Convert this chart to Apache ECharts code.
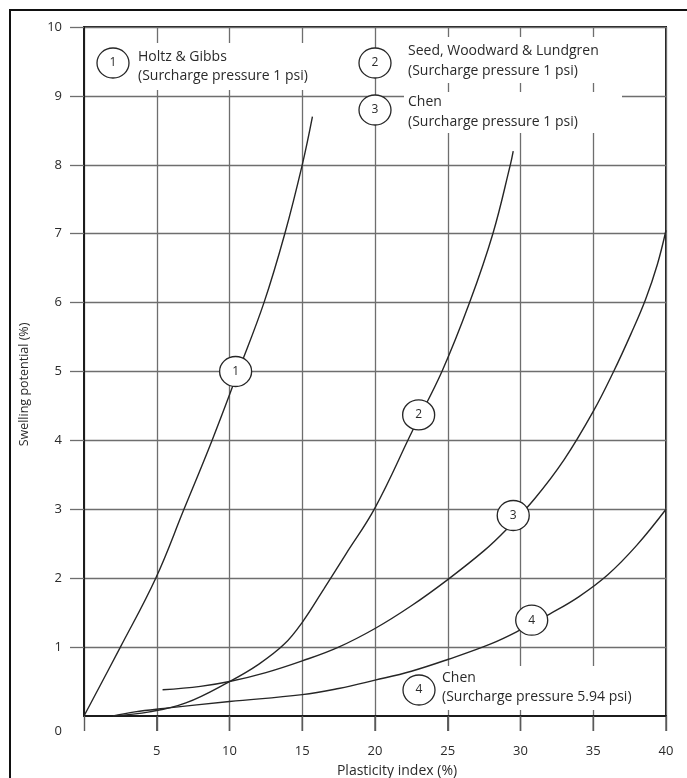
<!DOCTYPE html>
<html>
<head>
<meta charset="utf-8">
<title>Swelling potential vs plasticity index</title>
<script src="https://cdn.jsdelivr.net/npm/echarts@6.0.0/dist/echarts.min.js"></script>
<style>
  html, body { margin: 0; padding: 0; background: #fff; }
  #chart { width: 687px; height: 778px; }
</style>
</head>
<body>
<div id="chart"></div>
<script>
// Swelling potential (%) against plasticity index (%) for four published relations
const FONT = '"Open Sans", Lato, sans-serif';

const xTicks = [5, 10, 15, 20, 25, 30, 35, 40];
const yTicks = [0, 1, 2, 3, 4, 5, 6, 7, 8, 9, 10];

// [plasticity index, swelling potential]
const holtzGibbs = [
  [0, 0], [2.5, 1], [4.93, 2], [6.87, 3], [8.8, 4], [10.6, 5],
  [12.37, 6], [13.8, 7], [15.0, 8], [15.7, 8.7]
];
const seedWoodward = [
  [2.0, 0], [4.5, 0.06], [7, 0.19], [10, 0.5], [12, 0.75], [13.75, 1.04],
  [15, 1.36], [16.5, 1.85], [18, 2.35], [20, 3.02], [22.6, 4.15],
  [24.6, 5], [26.5, 6], [28.1, 7], [29.3, 8], [29.5, 8.2]
];
const chen1psi = [
  [5.4, 0.38], [8, 0.43], [10, 0.5], [12.5, 0.63], [15, 0.8], [17.5, 1.0],
  [20, 1.27], [22.5, 1.6], [25, 1.98], [27.5, 2.4], [29, 2.7], [31, 3.16],
  [33, 3.72], [35, 4.42], [36.4, 5], [37.6, 5.55], [38.6, 6.05], [39.4, 6.55],
  [40, 7.05]
];
const chen594psi = [
  [2.0, 0], [3.5, 0.06], [5.5, 0.11], [10, 0.21], [15, 0.31], [17.5, 0.4],
  [20, 0.52], [22.5, 0.65], [25, 0.82], [28, 1.05], [30, 1.25], [32, 1.48],
  [34, 1.73], [36, 2.05], [38, 2.48], [40, 3.0]
];

// numbered tags sitting on each curve
const tagNumbers = ['1', '2', '3', '4'];
const tagPositions = [[10.42, 5.0], [23.0, 4.37], [29.5, 2.91], [30.77, 1.39]];

// key entries: number, name, surcharge note
const keyNumbers = ['1', '2', '3', '4'];
const keyNames = ['Holtz & Gibbs', 'Seed, Woodward & Lundgren', 'Chen', 'Chen'];
const keyNotes = [
  '(Surcharge pressure 1 psi)', '(Surcharge pressure 1 psi)',
  '(Surcharge pressure 1 psi)', '(Surcharge pressure 5.94 psi)'
];

const chart = echarts.init(document.getElementById('chart'), null, { renderer: 'canvas' });

const LINE = '#262626';
const GRID = '#6e6e6e';
const TEXT = '#2a2a2a';

function curve(name, data) {
  return {
    name: name,
    type: 'line',
    data: data,
    smooth: 0.4,
    showSymbol: false,
    symbol: 'none',
    lineStyle: { color: LINE, width: 1.4 },
    z: 3,
    silent: true
  };
}

// key layout (pixel positions of each entry: circle centre, text left, white box)
const keyLayout = [
  { cx: 113, cy: 63, tx: 138, ty1: 57, ty2: 76, box: [134, 43, 180, 47] },
  { cx: 375, cy: 63, tx: 408, ty1: 51, ty2: 71, box: [404, 37, 218, 46] },
  { cx: 375, cy: 110, tx: 408, ty1: 102, ty2: 122, box: [404, 92, 218, 41] },
  { cx: 419, cy: 690, tx: 442, ty1: 678, ty2: 697, box: [437, 666, 200, 44] }
];

const keyGraphics = [];
keyLayout.forEach(function (k, i) {
  keyGraphics.push({
    type: 'rect', id: 'keybox' + i, z: 20,
    shape: { x: k.box[0], y: k.box[1], width: k.box[2], height: k.box[3] },
    style: { fill: '#fff' }
  });
  keyGraphics.push({
    type: 'ellipse', id: 'keyring' + i, z: 21,
    shape: { cx: k.cx, cy: k.cy, rx: 16, ry: 15 },
    style: { fill: '#fff', stroke: LINE, lineWidth: 1.3 }
  });
  keyGraphics.push({
    type: 'text', id: 'keynum' + i, z: 22, x: k.cx, y: k.cy,
    style: { text: keyNumbers[i], font: '12px ' + FONT, fill: TEXT, align: 'center', verticalAlign: 'middle' }
  });
  keyGraphics.push({
    type: 'text', id: 'keyname' + i, z: 22, x: k.tx, y: k.ty1,
    style: { text: keyNames[i], font: '14px ' + FONT, fill: TEXT, align: 'left', verticalAlign: 'middle' }
  });
  keyGraphics.push({
    type: 'text', id: 'keynote' + i, z: 22, x: k.tx, y: k.ty2,
    style: { text: keyNotes[i], font: '14px ' + FONT, fill: TEXT, align: 'left', verticalAlign: 'middle' }
  });
});

// outer frame of the figure
keyGraphics.push({
  type: 'rect', id: 'frame', z: 30,
  shape: { x: 10, y: 10, width: 720, height: 820 },
  style: { fill: null, stroke: '#111', lineWidth: 2 }
});

const option = {
  backgroundColor: '#fff',
  animation: false,
  grid: {
    left: 84, right: 21, top: 27, bottom: 62,
    containLabel: false,
    outerBoundsMode: 'none',
    show: true, borderColor: '#1c1c1c', borderWidth: 2
  },
  xAxis: {
    type: 'value',
    min: 0, max: 40, interval: 5,
    name: 'Plasticity index (%)',
    nameLocation: 'middle',
    nameGap: 48,
    nameTextStyle: { fontFamily: FONT, fontSize: 14, color: TEXT, padding: [0, 0, 0, 44] },
    axisLine: { show: true, onZero: false, lineStyle: { color: '#1c1c1c', width: 2 } },
    axisTick: {
      show: true, inside: false, length: 15,
      lineStyle: { color: '#5a5a5a', width: 1.4 }
    },
    axisLabel: {
      margin: 29,
      fontFamily: FONT, fontSize: 13, color: TEXT,
      formatter: function (v) { return xTicks.indexOf(v) >= 0 ? String(v) : ''; }
    },
    splitLine: { show: true, lineStyle: { color: GRID, width: 1.3 } }
  },
  yAxis: {
    type: 'value',
    min: 0, max: 10, interval: 1,
    name: 'Swelling potential (%)',
    nameLocation: 'middle',
    nameGap: 53,
    nameTextStyle: { fontFamily: FONT, fontSize: 12.5, color: TEXT, padding: [0, 26, 0, 0] },
    axisLine: { show: true, lineStyle: { color: '#1c1c1c', width: 2 } },
    axisTick: {
      show: true, inside: false, length: 14,
      customValues: yTicks.filter(function (v) { return v > 0; }),
      lineStyle: { color: GRID, width: 1.3 }
    },
    axisLabel: {
      customValues: yTicks,
      margin: 22,
      fontFamily: FONT, fontSize: 13, color: TEXT,
      formatter: function (v) { return v === 0 ? '{z|0}' : String(v); },
      rich: { z: { fontFamily: FONT, fontSize: 13, color: TEXT, padding: [30, 0, 0, 0] } }
    },
    splitLine: { show: true, lineStyle: { color: GRID, width: 1.3 } }
  },
  series: [
    curve('Holtz & Gibbs', holtzGibbs),
    curve('Seed, Woodward & Lundgren', seedWoodward),
    curve('Chen (1 psi)', chen1psi),
    curve('Chen (5.94 psi)', chen594psi),
    {
      name: 'tags',
      type: 'scatter',
      z: 5,
      silent: true,
      symbol: 'circle',
      symbolSize: [32, 30],
      itemStyle: { color: '#fff', borderColor: LINE, borderWidth: 1.3, opacity: 1 },
      label: {
        show: true, position: 'inside',
        fontFamily: FONT, fontSize: 12, color: TEXT,
        formatter: function (p) { return tagNumbers[p.dataIndex]; }
      },
      data: tagPositions
    }
  ],
  graphic: { elements: keyGraphics }
};

chart.setOption(option);

// outward ticks under the x axis, placed through the axis scales
const baseY = chart.convertToPixel({ yAxisIndex: 0 }, 0);
const tickMarks = [];
xTicks.forEach(function (v, i) {
  const px = chart.convertToPixel({ xAxisIndex: 0 }, v);
  if (isFinite(px) && isFinite(baseY)) {
    tickMarks.push({
      type: 'line', id: 'xtick' + i, z: 50,
      shape: { x1: px, y1: baseY + 1, x2: px, y2: baseY + 15 },
      style: { stroke: '#5a5a5a', lineWidth: 1.4 }
    });
  }
});
chart.setOption({ graphic: { elements: keyGraphics.concat(tickMarks) } });
</script>
</body>
</html>
